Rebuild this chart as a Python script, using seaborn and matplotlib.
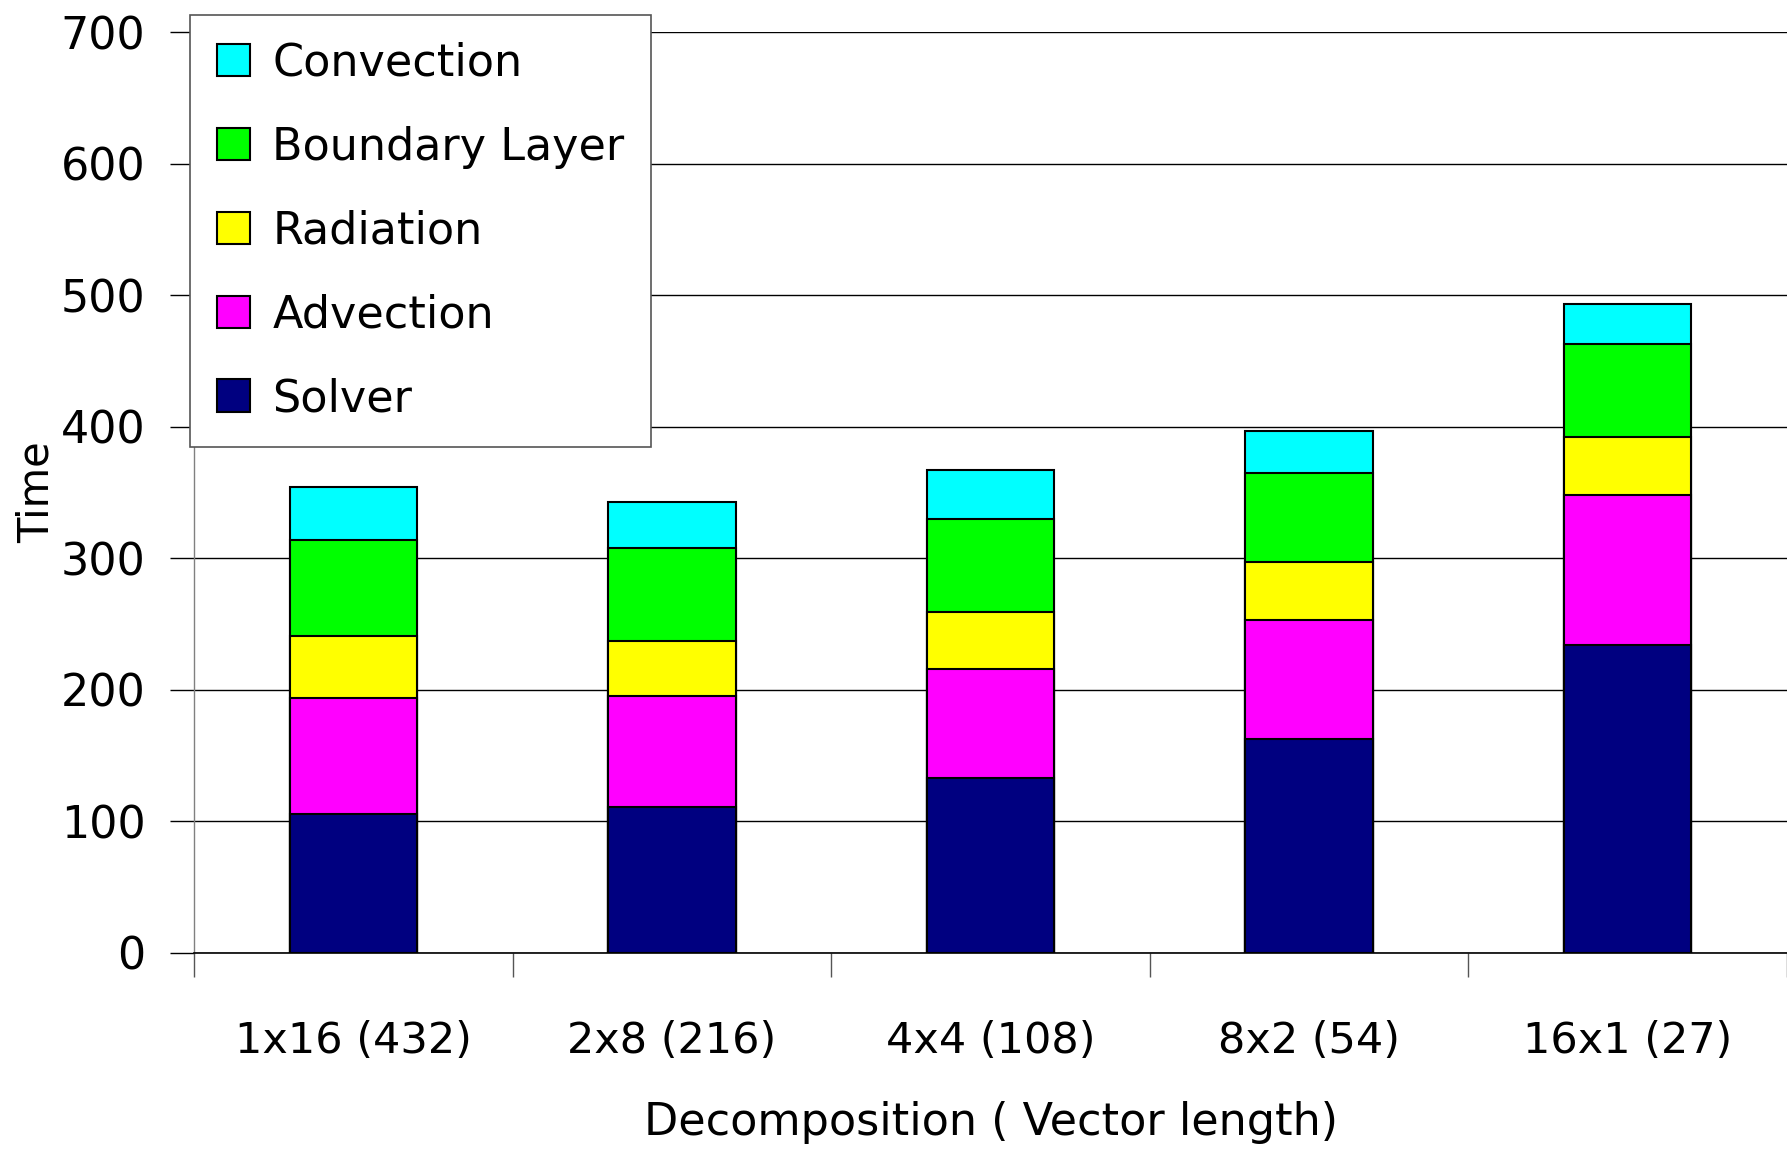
import numpy as np
import matplotlib
matplotlib.use("Agg")
import matplotlib.pyplot as plt
from matplotlib.patches import Patch
import pandas as pd
import seaborn as sns

# data
decomp = ['1x16 (432)', '2x8 (216)', '4x4 (108)', '8x2 (54)', '16x1 (27)']
solver = [106, 111, 133, 163, 234]
advection = [88, 84, 83, 90, 114]
radiation = [47, 42, 43, 44, 44]
boundary = [73, 71, 71, 68, 71]
convection = [40, 35, 37, 32, 30]

names = ['Solver', 'Advection', 'Radiation', 'Boundary Layer', 'Convection']
colors = ['#000080', '#FF00FF', '#FFFF00', '#00FF00', '#00FFFF']

sns.set_style("white")
plt.rcParams['font.family'] = ['DejaVu Sans']
plt.rcParams['text.color'] = 'black'
plt.rcParams['axes.labelcolor'] = 'black'
plt.rcParams['xtick.color'] = 'black'
plt.rcParams['ytick.color'] = 'black'

df = pd.DataFrame({'Decomposition': decomp, 'Solver': solver, 'Advection': advection,
                   'Radiation': radiation, 'Boundary Layer': boundary,
                   'Convection': convection})

# cumulative heights so the stacks can be drawn tallest first
cum = df[names].cumsum(axis=1)

fig = plt.figure(figsize=(17.87, 11.54), dpi=100)
ax = fig.add_axes([0.1086, 0.1742, 0.8914, 0.798])

for name, col in reversed(list(zip(names, colors))):
    sns.barplot(x=df['Decomposition'], y=cum[name], color=col, saturation=1, width=0.4,
                edgecolor='black', linewidth=1.5, errorbar=None, ax=ax, zorder=3)

ax.set_xlim(-0.5, 4.5)
ax.set_ylim(0, 700)
ax.set_yticks(np.arange(0, 701, 100))
ax.yaxis.grid(True, color='black', linewidth=1.0, zorder=0)
ax.set_axisbelow(True)

ax.set_xticks(np.arange(-0.5, 4.6, 1), minor=True)
ax.tick_params(axis='x', which='major', bottom=True, length=0, pad=48, labelsize=31)
ax.tick_params(axis='x', which='minor', bottom=True, length=17, width=1, color='#555555',
               direction='out')
ax.tick_params(axis='y', left=True, length=17, width=1, color='black', direction='out',
               pad=18, labelsize=32)

for s in ['top', 'right']:
    ax.spines[s].set_visible(False)
ax.spines['left'].set_color('#808080')
ax.spines['left'].set_linewidth(1)
ax.spines['bottom'].set_color('black')
ax.spines['bottom'].set_linewidth(1.2)

ax.set_xlabel('Decomposition ( Vector length)', fontsize=32, labelpad=28)
ax.set_ylabel('Time', fontsize=30, labelpad=2)

handles = [Patch(facecolor=c, edgecolor='black', linewidth=1.5, label=n)
           for n, c in zip(names, colors)][::-1]
leg = fig.legend(handles=handles, loc='upper left', bbox_to_anchor=(190 / 1787, 1 - 15 / 1154),
                 fontsize=32, frameon=True, fancybox=False, framealpha=1, facecolor='white',
                 handlelength=0.75, handleheight=0.75, handletextpad=0.5, labelspacing=0.92,
                 borderpad=0.6, borderaxespad=0)
leg.get_frame().set_edgecolor('#555555')
leg.get_frame().set_linewidth(1.2)

fig.savefig('out.png', dpi=100)
